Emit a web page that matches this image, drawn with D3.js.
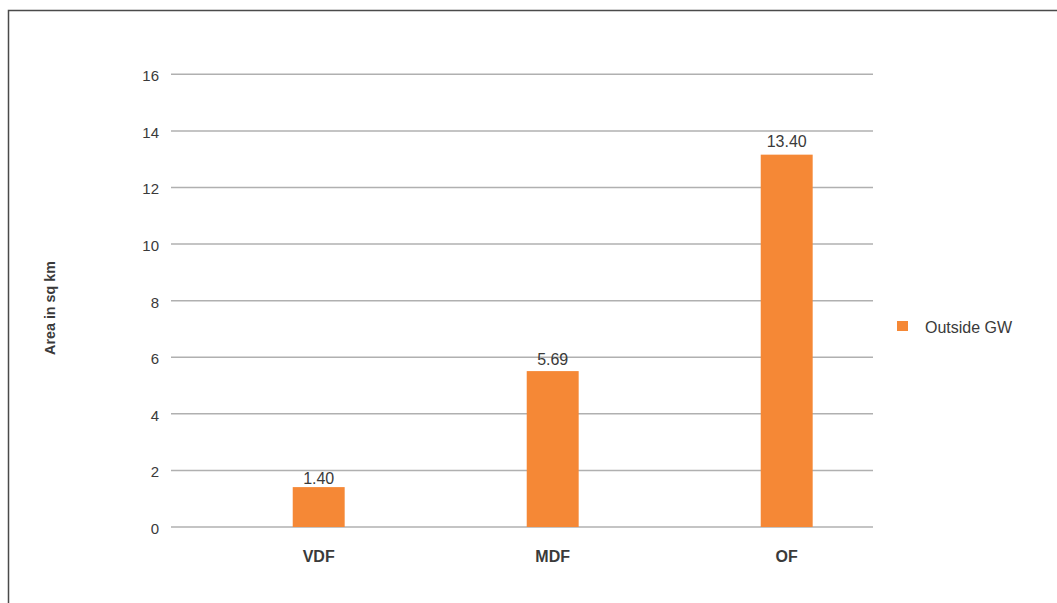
<!DOCTYPE html>
<html>
<head>
<meta charset="utf-8">
<script src="https://cdn.jsdelivr.net/npm/d3@7"></script>
<style>
  html, body { margin: 0; padding: 0; background: #fff; }
  svg { display: block; font-family: "Liberation Sans", Arial, sans-serif; }
</style>
</head>
<body>
<svg id="chart" width="1057" height="603"></svg>
<script>
/* ── Data ─────────────────────────────────────────────────── */
const categories = ['VDF', 'MDF', 'OF'];
const barValues = [1.41, 5.51, 13.16];          // drawn heights
const valueLabels = ['1.40', '5.69', '13.40'];  // printed labels
const labelValues = [1.40, 5.69, 13.40];
const yTicks = [0, 2, 4, 6, 8, 10, 12, 14, 16];
const seriesName = 'Outside GW';

const ORANGE = '#f58836';
const GRID = '#b0b0b0';
const TEXT = '#3a3a3a';

const svg = d3.select('#chart');

// frame (top and left edges are visible)
svg.append('path')
  .attr('d', 'M8.5,603 L8.5,10.5 L1057,10.5')
  .attr('fill', 'none')
  .attr('stroke', '#4a4a4a')
  .attr('stroke-width', 1.5);

/* ── Scales ───────────────────────────────────────────────── */
const gridX0 = 171, gridX1 = 873;
const y = d3.scaleLinear().domain([0, 16]).range([527, 74.3]);
const x = d3.scaleBand().domain(categories).range([201.7, 903.7]).paddingInner(0.778).paddingOuter(0.389);

/* ── Grid + y ticks ───────────────────────────────────────── */
const grid = svg.append('g');
grid.selectAll('line').data(yTicks).enter().append('line')
  .attr('x1', gridX0).attr('x2', gridX1)
  .attr('y1', d => y(d)).attr('y2', d => y(d))
  .attr('stroke', GRID).attr('stroke-width', 1.5);

svg.append('g').selectAll('text').data(yTicks).enter().append('text')
  .attr('x', 159).attr('y', d => y(d) + 7)
  .attr('text-anchor', 'end')
  .attr('font-size', 15).attr('fill', TEXT)
  .text(d => d);

/* ── Bars ─────────────────────────────────────────────────── */
svg.append('g').selectAll('rect').data(categories).enter().append('rect')
  .attr('x', d => x(d))
  .attr('width', x.bandwidth())
  .attr('y', (d, i) => y(barValues[i]))
  .attr('height', (d, i) => y(0) - y(barValues[i]))
  .attr('fill', ORANGE);

svg.append('g').selectAll('text').data(categories).enter().append('text')
  .attr('x', d => x(d) + x.bandwidth() / 2)
  .attr('y', (d, i) => Math.min(y(labelValues[i]), y(barValues[i]) - 2) - 1)
  .attr('text-anchor', 'middle')
  .attr('font-size', 16).attr('fill', TEXT)
  .text((d, i) => valueLabels[i]);

/* ── Category labels ──────────────────────────────────────── */
svg.append('g').selectAll('text').data(categories).enter().append('text')
  .attr('x', d => x(d) + x.bandwidth() / 2)
  .attr('y', 562)
  .attr('text-anchor', 'middle')
  .attr('font-size', 16).attr('font-weight', 'bold').attr('fill', TEXT)
  .text(d => d);

/* ── Axis title ───────────────────────────────────────────── */
svg.append('text')
  .attr('transform', 'translate(54.5,308) rotate(-90)')
  .attr('text-anchor', 'middle')
  .attr('font-size', 14.3).attr('font-weight', 'bold').attr('fill', TEXT)
  .text('Area in sq km');

/* ── Legend ───────────────────────────────────────────────── */
const legend = svg.append('g').attr('transform', 'translate(897,321)');
legend.append('rect').attr('width', 11).attr('height', 10).attr('fill', ORANGE);
legend.append('text')
  .attr('x', 28).attr('y', 11.5)
  .attr('font-size', 16).attr('fill', TEXT)
  .text(seriesName);
</script>
</body>
</html>
